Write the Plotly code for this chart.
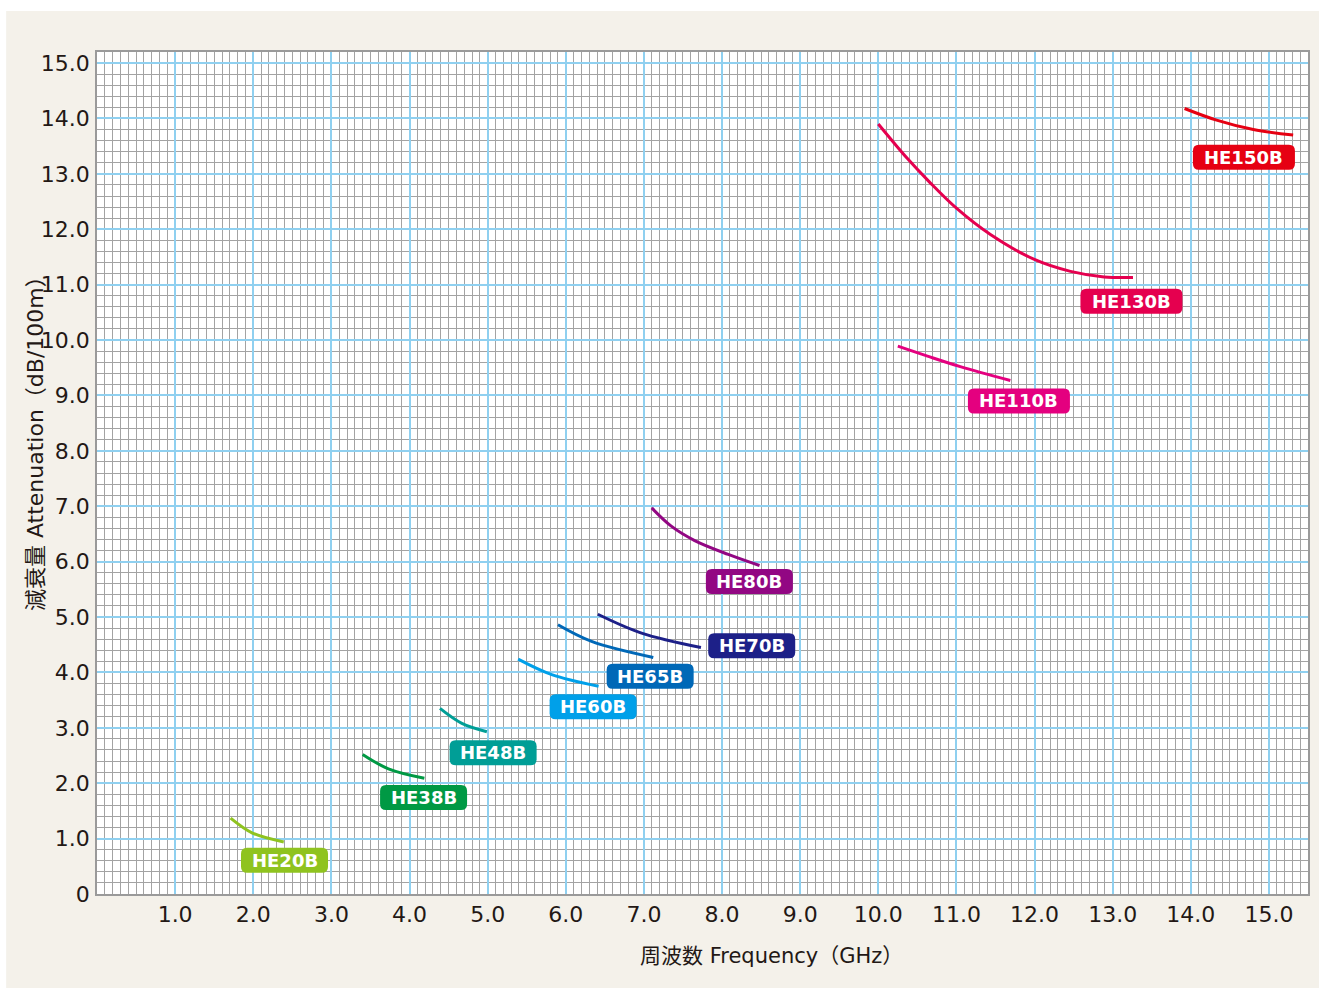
import plotly.graph_objects as go

# ---------------- data ----------------
cables = ["HE20B", "HE38B", "HE48B", "HE60B", "HE65B", "HE70B", "HE80B", "HE110B", "HE130B", "HE150B"]

freq_he20b = [1.71, 1.99, 2.39]
att_he20b = [1.37, 1.10, 0.94]
freq_he38b = [3.40, 3.73, 4.19]
att_he38b = [2.52, 2.26, 2.09]
freq_he48b = [4.39, 4.67, 4.99]
att_he48b = [3.35, 3.08, 2.93]
freq_he60b = [5.39, 5.82, 6.42]
att_he60b = [4.24, 3.96, 3.75]
freq_he65b = [5.90, 6.33, 7.12]
att_he65b = [4.86, 4.56, 4.27]
freq_he70b = [6.41, 6.97, 7.73]
att_he70b = [5.05, 4.71, 4.45]
freq_he80b = [7.10, 7.35, 7.65, 8.08, 8.48]
att_he80b = [6.97, 6.64, 6.38, 6.13, 5.93]
freq_he110b = [10.25, 10.63, 11.05, 11.69]
att_he110b = [9.89, 9.71, 9.52, 9.27]
freq_he130b = [10.00, 10.37, 10.65, 11.00, 11.44, 11.99, 12.46, 12.89, 13.26]
att_he130b = [13.90, 13.28, 12.86, 12.38, 11.90, 11.46, 11.24, 11.14, 11.13]
freq_he150b = [13.92, 14.33, 14.80, 15.31]
att_he150b = [14.18, 13.97, 13.80, 13.70]

x_tick_vals = [1, 2, 3, 4, 5, 6, 7, 8, 9, 10, 11, 12, 13, 14, 15]
x_tick_text = ["1.0", "2.0", "3.0", "4.0", "5.0", "6.0", "7.0", "8.0", "9.0", "10.0",
               "11.0", "12.0", "13.0", "14.0", "15.0"]
y_tick_vals = [0, 1, 2, 3, 4, 5, 6, 7, 8, 9, 10, 11, 12, 13, 14, 15]
y_tick_text = ["0", "1.0", "2.0", "3.0", "4.0", "5.0", "6.0", "7.0", "8.0", "9.0", "10.0",
               "11.0", "12.0", "13.0", "14.0", "15.0"]

x_title = "周波数 Frequency（GHz）"
y_title = "減衰量 Attenuation（dB/100m）"

# ---------------- styles / label placement ----------------
series = {
    "HE20B": (freq_he20b, att_he20b),
    "HE38B": (freq_he38b, att_he38b),
    "HE48B": (freq_he48b, att_he48b),
    "HE60B": (freq_he60b, att_he60b),
    "HE65B": (freq_he65b, att_he65b),
    "HE70B": (freq_he70b, att_he70b),
    "HE80B": (freq_he80b, att_he80b),
    "HE110B": (freq_he110b, att_he110b),
    "HE130B": (freq_he130b, att_he130b),
    "HE150B": (freq_he150b, att_he150b),
}
colors = {
    "HE20B": "#8fc31f", "HE38B": "#009944", "HE48B": "#009e96", "HE60B": "#00a0e9",
    "HE65B": "#0068b7", "HE70B": "#1d2088", "HE80B": "#920783", "HE110B": "#e4007f",
    "HE130B": "#e5004f", "HE150B": "#e60012",
}
label_pos = {
    "HE20B": (2.40, 0.61), "HE38B": (4.18, 1.74), "HE48B": (5.07, 2.55),
    "HE60B": (6.35, 3.38), "HE65B": (7.08, 3.93), "HE70B": (8.38, 4.48),
    "HE80B": (8.35, 5.64), "HE110B": (11.80, 8.90), "HE130B": (13.24, 10.70),
    "HE150B": (14.68, 13.30),
}


def rounded_rect(w, h, r):
    hw, hh = w / 2, h / 2
    return (f"M {-hw + r},{-hh} L {hw - r},{-hh} Q {hw},{-hh} {hw},{-hh + r} "
            f"L {hw},{hh - r} Q {hw},{hh} {hw - r},{hh} L {-hw + r},{hh} "
            f"Q {-hw},{hh} {-hw},{hh - r} L {-hw},{-hh + r} Q {-hw},{-hh} {-hw + r},{-hh} Z")


fig = go.Figure()

for name in cables:
    xs, ys = series[name]
    fig.add_trace(go.Scatter(
        x=xs, y=ys, mode="lines", name=name,
        line=dict(color=colors[name], width=3, shape="spline", smoothing=1.0),
        hoverinfo="x+y+name", showlegend=False,
    ))

W, H = 1319, 988
ML, MR, MT, MB = 97, 9, 52, 94
PW, PH = W - ML - MR, H - MT - MB

shapes = [
    # beige page
    dict(type="rect", xref="paper", yref="paper", layer="below",
         x0=(6 - ML) / PW, x1=(W + 5 - ML) / PW,
         y0=(PH + MT - (H + 5)) / PH, y1=(PH + MT - 11) / PH,
         fillcolor="#f4f1ea", line=dict(width=0)),
    # white plot area
    dict(type="rect", xref="paper", yref="paper", layer="below",
         x0=0, x1=1, y0=0, y1=1, fillcolor="white", line=dict(width=0)),
]

annotations = []
for name in cables:
    lx, ly = label_pos[name]
    w = 87 if len(name) == 5 else 102
    shapes.append(dict(
        type="path", xref="x", yref="y", xsizemode="pixel", ysizemode="pixel",
        xanchor=lx, yanchor=ly, path=rounded_rect(w, 25, 6),
        fillcolor=colors[name], line=dict(width=0), layer="above",
    ))
    annotations.append(dict(
        x=lx, y=ly, xref="x", yref="y", text=f"<b>{name}</b>", showarrow=False,
        font=dict(family="DejaVu Sans", size=18, color="white"),
        xanchor="center", yanchor="middle",
    ))

title_font = dict(family="DejaVu Sans, Noto Sans CJK JP", size=21, color="#231815")
annotations.append(dict(
    x=(773 - ML) / PW, y=(PH + MT - 956) / PH, xref="paper", yref="paper",
    text=x_title, showarrow=False, xanchor="center", yanchor="middle", font=title_font,
))
annotations.append(dict(
    x=(35 - ML) / PW, y=(PH + MT - 438) / PH, xref="paper", yref="paper",
    text=y_title, showarrow=False, xanchor="center", yanchor="middle", textangle=-90,
    font=dict(family="DejaVu Sans, Noto Sans CJK JP", size=22, color="#231815"),
))

axis_common = dict(
    showgrid=True, gridcolor="#8fd0f0", gridwidth=1.5,
    zeroline=False, showline=True, linecolor="#9a9a9a", linewidth=1.5, mirror=True,
    ticks="", tickfont=dict(family="DejaVu Sans", size=22, color="#231815"),
    tickmode="array", fixedrange=True,
)

fig.update_layout(
    width=W, height=H,
    margin=dict(l=ML, r=MR, t=MT, b=MB),
    paper_bgcolor="white", plot_bgcolor="white",
    shapes=shapes, annotations=annotations,
    xaxis=dict(range=[0, 15.5], tickvals=x_tick_vals, ticktext=x_tick_text,
               minor=dict(dtick=0.1, tick0=0, showgrid=True, gridcolor="#a3a3a3", gridwidth=1),
               ticklabelstandoff=0, **axis_common),
    yaxis=dict(range=[0, 15.2], tickvals=y_tick_vals, ticktext=y_tick_text,
               minor=dict(dtick=0.2, tick0=0, showgrid=True, gridcolor="#a3a3a3", gridwidth=1),
               ticklabelstandoff=1, **axis_common),
)

fig.write_html("out.html", config={"displayModeBar": False},
               post_script="document.body.style.margin='0';document.body.style.overflow='hidden';")
